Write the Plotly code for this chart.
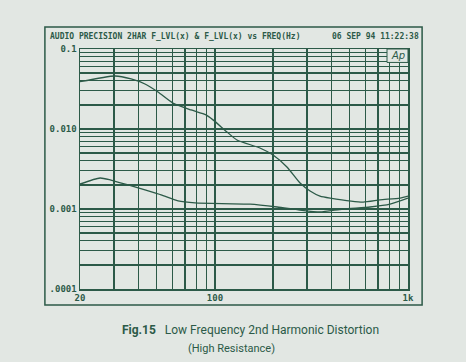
import plotly.graph_objects as go

# Data
freq_upper = [20, 30.4, 36.8, 43.4, 50.7, 60.6, 75.2, 89.9, 97.7, 115.5, 130, 171, 200, 236, 276, 311, 350, 395, 585, 716, 910, 1000]
thd_upper = [0.0390, 0.0460, 0.0422, 0.0365, 0.0290, 0.0211, 0.0173, 0.0150, 0.0130, 0.00918, 0.00729, 0.00579, 0.00473, 0.00335, 0.00211, 0.00168, 0.00145, 0.00137, 0.00122, 0.00130, 0.00137, 0.00145]
freq_lower = [20, 25.4, 28.9, 35.5, 43.4, 52.6, 64.4, 78.9, 152, 210, 276, 350, 461, 636, 807, 1000]
thd_lower = [0.00205, 0.00244, 0.00230, 0.00200, 0.00173, 0.00150, 0.00126, 0.00119, 0.00115, 0.00106, 0.00097, 0.00092, 0.00100, 0.00106, 0.00115, 0.00137]

x_grid = [20, 30, 40, 50, 60, 70, 80, 90, 100, 200, 300, 400, 500, 600, 700, 800, 900, 1000]
x_labels = {20: "20", 100: "100", 1000: "1k"}
y_grid = [m * 10.0 ** e for e in (-4, -3, -2) for m in range(1, 10)] + [0.1]
y_labels = {0.0001: ".0001", 0.001: "0.001", 0.01: "0.010", 0.1: "0.1"}

header_left = "AUDIO PRECISION 2HAR F_LVL(x) & F_LVL(x) vs FREQ(Hz)"
header_right = "06 SEP 94 11:22:38"
caption = "<b>Fig.15</b>   Low Frequency 2nd Harmonic Distortion"
subcaption = "(High Resistance)"

BG = "#e2e7e3"
INK = "#2c5a48"
MONO = "DejaVu Sans Mono"

fig = go.Figure()
for fx, fy in ((freq_upper, thd_upper), (freq_lower, thd_lower)):
    fig.add_trace(go.Scatter(x=fx, y=fy, mode="lines", line=dict(color=INK, width=1.3, shape="spline", smoothing=0.6),
                             showlegend=False, hoverinfo="skip"))

def lab(d, v):
    for k, t in d.items():
        if abs(v - k) / k < 1e-6:
            return t
    return ""

fig.update_xaxes(type="log", range=[1.30103, 3.0], tickvals=x_grid, ticktext=[lab(x_labels, v) for v in x_grid],
                 showgrid=True, gridcolor=INK, gridwidth=1.2, showline=True, mirror=True, linecolor=INK, linewidth=1.5,
                 ticks="", zeroline=False,
                 tickfont=dict(family=MONO, size=9, color=INK, weight="bold"))
fig.update_yaxes(type="log", range=[-4, -1], tickvals=y_grid, ticktext=[lab(y_labels, v) for v in y_grid],
                 showgrid=True, gridcolor=INK, gridwidth=1.2, showline=True, mirror=True, linecolor=INK, linewidth=1.5,
                 ticks="", zeroline=False,
                 tickfont=dict(family=MONO, size=9, color=INK, weight="bold"))

# outer frame
fig.add_shape(type="rect", xref="paper", yref="paper", x0=-0.107, x1=1.043, y0=-0.067, y1=1.092,
              line=dict(color=INK, width=1.5), layer="below")
# Ap box
fig.add_shape(type="rect", xref="paper", yref="paper", x0=0.936, x1=1.0, y0=0.944, y1=1.0,
              line=dict(color=INK, width=1), fillcolor=BG, layer="above")
fig.add_annotation(xref="paper", yref="paper", x=0.968, y=0.971, text="<i>Ap</i>", showarrow=False,
                   xanchor="center", yanchor="middle",
                   font=dict(family="DejaVu Sans", size=10, color=INK))

fig.add_annotation(xref="paper", yref="paper", x=-0.098, y=1.05, xanchor="left", yanchor="middle",
                   text=header_left, showarrow=False, font=dict(family=MONO, size=8, color=INK, weight="bold"))
fig.add_annotation(xref="paper", yref="paper", x=1.04, y=1.05, xanchor="right", yanchor="middle",
                   text=header_right, showarrow=False, font=dict(family=MONO, size=8, color=INK, weight="bold"))

fig.add_annotation(xref="paper", yref="paper", x=0.52, y=-0.171, xanchor="center", yanchor="middle",
                   text=caption, showarrow=False, font=dict(family="Liberation Sans Narrow, Roboto", size=12, color=INK))
fig.add_annotation(xref="paper", yref="paper", x=0.463, y=-0.246, xanchor="center", yanchor="middle",
                   text=subcaption, showarrow=False, font=dict(family="Liberation Sans Narrow, Roboto", size=11, color=INK))

fig.update_layout(width=466, height=362, margin=dict(l=80, r=58, t=49, b=73, autoexpand=False),
                  paper_bgcolor=BG, plot_bgcolor=BG)

fig.write_html("out.html", config={"displayModeBar": False, "staticPlot": True},
               post_script="document.body.style.margin='0';document.body.style.background='%s';" % BG)
